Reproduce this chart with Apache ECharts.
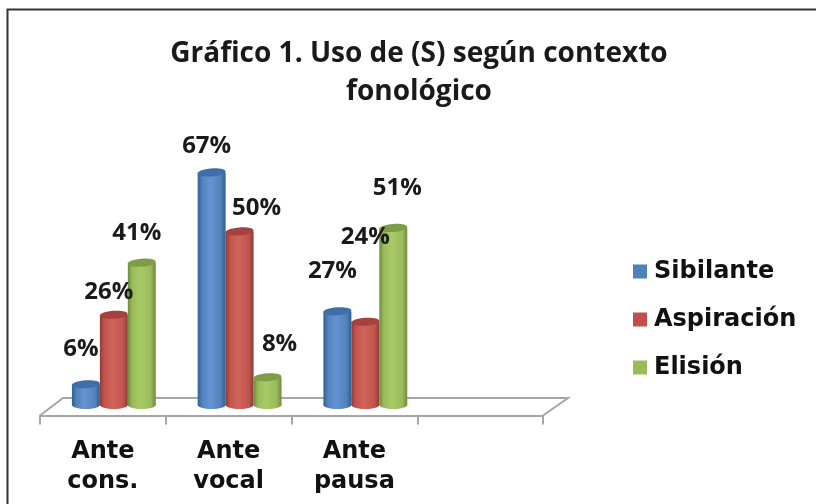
<!DOCTYPE html>
<html>
<head>
<meta charset="utf-8">
<title>Gráfico 1</title>
<script src="https://cdn.jsdelivr.net/npm/echarts@6/dist/echarts.min.js"></script>
<style>
  html, body { margin: 0; padding: 0; background: #fff; }
  #chart { width: 816px; height: 504px; }
</style>
</head>
<body>
<div id="chart"></div>
<script>
const categories = ['Ante\ncons.', 'Ante\nvocal', 'Ante\npausa', '']
const sibilante = [6, 67, 27]
const aspiracion = [26, 50, 24]
const elision = [41, 8, 51]

// hand placed labels, same as the original chart: [dx from bar centre, dy from bar top]
const sibilanteLabelPos = [[-5, -35], [-5, -26], [-5, -40]]
const aspiracionLabelPos = [[-5, -23], [17, -23], [0, -85]]
const elisionLabelPos = [[-5, -30], [12, -33], [4, -40]]

const labelFont = '700 24px "Open Sans", sans-serif'
const boldFont = 'DejaVu Sans'

function cylinderSeries(name, values, labelPos, col, slot) {
  return {
    name,
    type: 'custom',
    coordinateSystem: 'cartesian2d',
    itemStyle: { color: col.base },
    encode: { x: 0, y: 1 },
    data: values.map((v, i) => [i, v]),
    clip: false,
    renderItem(params, api) {
      const i = api.value(0)
      const v = api.value(1)
      const top = api.coord([i, v])
      const base = api.coord([i, 0])
      const band = api.size([1, 0])[0]
      const w = band * 2 / 9
      const cx = top[0] + band * 11 / 126 + slot * w
      const ry = 4
      const x0 = cx - w / 2
      const body = new echarts.graphic.LinearGradient(0, 0, 1, 0, [
        { offset: 0, color: col.dark },
        { offset: 0.16, color: col.mid },
        { offset: 0.45, color: col.light },
        { offset: 0.82, color: col.mid },
        { offset: 1, color: col.dark }
      ])
      const lp = labelPos[params.dataIndex]
      return {
        type: 'group',
        children: [
          { type: 'ellipse', shape: { cx, cy: base[1], rx: w / 2, ry }, style: { fill: body } },
          { type: 'rect', shape: { x: x0, y: top[1], width: w, height: base[1] - top[1] }, style: { fill: body } },
          {
            type: 'ellipse',
            shape: { cx, cy: top[1], rx: w / 2, ry },
            rotation: 0.07,
            originX: cx,
            originY: top[1],
            style: { fill: col.cap }
          },
          {
            type: 'text',
            z2: 100,
            style: {
              x: cx + lp[0],
              y: top[1] + lp[1],
              text: v + '%',
              font: labelFont,
              fill: '#1a1a1a',
              align: 'center',
              verticalAlign: 'middle'
            }
          }
        ]
      }
    }
  }
}

const chart = echarts.init(document.getElementById('chart'), null, { renderer: 'canvas' })

chart.setOption({
  animation: false,
  backgroundColor: '#fff',
  title: {
    text: 'Gráfico 1. Uso de (S) según contexto\nfonológico',
    left: 414,
    top: 30,
    textAlign: 'center',
    textStyle: {
      fontFamily: 'Open Sans',
      fontWeight: 700,
      fontSize: 28,
      lineHeight: 38,
      color: '#1a1a1a'
    }
  },
  legend: {
    orient: 'vertical',
    left: 628,
    top: 254.5,
    itemWidth: 14,
    itemHeight: 14,
    itemGap: 24,
    icon: 'rect',
    textStyle: {
      fontFamily: boldFont,
      fontWeight: 'bold',
      fontSize: 24,
      lineHeight: 24,
      color: '#111',
      padding: [0, 0, 0, 2]
    },
    data: ['Sibilante', 'Aspiración', 'Elisión']
  },
  grid: { left: 40, right: 273, top: 162, height: 253.5 },
  xAxis: {
    type: 'category',
    data: categories,
    axisLine: { onZero: false, lineStyle: { color: '#a6a6a6', width: 2 } },
    axisTick: { show: true, length: 9, alignWithLabel: false, lineStyle: { color: '#a6a6a6', width: 2 } },
    axisLabel: {
      interval: 0,
      margin: 21,
      fontFamily: boldFont,
      fontWeight: 'bold',
      fontSize: 24,
      lineHeight: 30,
      color: '#111'
    }
  },
  yAxis: { type: 'value', min: -3, max: 70, show: false },
  // floor of the 3d box and the frame around the picture
  graphic: [
    {
      type: 'polyline',
      z: 1,
      shape: { points: [[40, 415.5], [63, 398], [568, 398], [543, 415.5]] },
      style: { fill: null, stroke: '#a6a6a6', lineWidth: 2 }
    },
    {
      type: 'polyline',
      z: 1,
      shape: { points: [[7.5, 504], [7.5, 9.5], [816, 9.5]] },
      style: { fill: null, stroke: '#333', lineWidth: 2 }
    }
  ],
  series: [
    cylinderSeries('Sibilante', sibilante, sibilanteLabelPos,
      { base: '#4F81BD', mid: '#5482BC', dark: '#2F5F93', light: '#6393D2', cap: '#3F6FA8' }, -1),
    cylinderSeries('Aspiración', aspiracion, aspiracionLabelPos,
      { base: '#C0504D', mid: '#C2564F', dark: '#8E3A37', light: '#D0645A', cap: '#A5423F' }, 0),
    cylinderSeries('Elisión', elision, elisionLabelPos,
      { base: '#9BBB59', mid: '#9ABB5A', dark: '#6F8A3D', light: '#A8CA66', cap: '#7F9C47' }, 1)
  ]
})
</script>
</body>
</html>
